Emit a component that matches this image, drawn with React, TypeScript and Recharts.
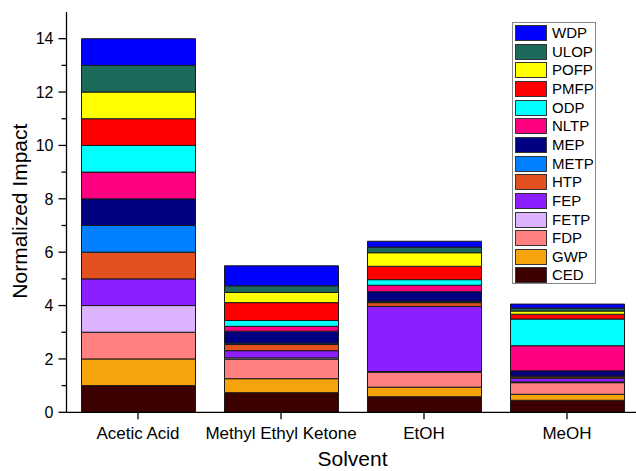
import React from "react";
import { BarChart, Bar, XAxis, YAxis } from "recharts";

// Solvents compared
const solvents = ["Acetic Acid", "Methyl Ethyl Ketone", "EtOH", "MeOH"];

// Normalized impact per category, one value per solvent (bottom of stack first)
const CED = [1, 0.735, 0.585, 0.45];
const GWP = [1, 0.525, 0.355, 0.225];
const FDP = [1, 0.73, 0.56, 0.435];
const FETP = [1, 0.05, 0.03, 0.03];
const FEP = [1, 0.27, 2.44, 0.135];
const HTP = [1, 0.23, 0.14, 0.05];
const METP = [1, 0.05, 0.05, 0.03];
const MEP = [1, 0.45, 0.36, 0.2];
const NLTP = [1, 0.18, 0.24, 0.94];
const ODP = [1, 0.22, 0.21, 1.0];
const PMFP = [1, 0.67, 0.5, 0.18];
const POFP = [1, 0.38, 0.51, 0.12];
const ULOP = [1, 0.25, 0.21, 0.11];
const WDP = [1, 0.75, 0.22, 0.15];

const yTicks = [0, 1, 2, 3, 4, 5, 6, 7, 8, 9, 10, 11, 12, 13, 14, 15];

const series: { key: string; values: number[]; color: string }[] = [
  { key: "CED", values: CED, color: "#3d0000" },
  { key: "GWP", values: GWP, color: "#f7a30b" },
  { key: "FDP", values: FDP, color: "#ff8080" },
  { key: "FETP", values: FETP, color: "#dcb3ff" },
  { key: "FEP", values: FEP, color: "#8d1eff" },
  { key: "HTP", values: HTP, color: "#e2511f" },
  { key: "METP", values: METP, color: "#0080ff" },
  { key: "MEP", values: MEP, color: "#000080" },
  { key: "NLTP", values: NLTP, color: "#ff0080" },
  { key: "ODP", values: ODP, color: "#00ffff" },
  { key: "PMFP", values: PMFP, color: "#ff0000" },
  { key: "POFP", values: POFP, color: "#ffff00" },
  { key: "ULOP", values: ULOP, color: "#1b6a5b" },
  { key: "WDP", values: WDP, color: "#0000ff" },
];

const data = solvents.map((name, i) => {
  const row: Record<string, number | string> = { name };
  series.forEach((s) => {
    row[s.key] = s.values[i];
  });
  return row;
});

const FONT = "Arial, 'Liberation Sans', sans-serif";

const YTick = (props: any) => {
  const { x, y, payload } = props;
  const v = payload.value as number;
  const major = v % 2 === 0;
  if (v > 14) return null;
  return (
    <g>
      <line x1={x - (major ? 8 : 5)} x2={x} y1={y} y2={y} stroke="#000" strokeWidth={1.3} />
      {major && (
        <text x={x - 13} y={y} dy={5.8} textAnchor="end" fontSize={16} fontFamily={FONT} fill="#000">
          {v}
        </text>
      )}
    </g>
  );
};

const XTick = (props: any) => {
  const { x, y, payload } = props;
  return (
    <g>
      <line x1={x} x2={x} y1={y} y2={y + 7} stroke="#000" strokeWidth={1.3} />
      <text x={x} y={y + 26.7} textAnchor="middle" fontSize={17} fontFamily={FONT} fill="#000">
        {payload.value}
      </text>
    </g>
  );
};

const XTitle = (props: any) => {
  const vb = props.viewBox;
  return (
    <text
      x={vb.x + vb.width / 2}
      y={vb.y + vb.height - 5}
      textAnchor="middle"
      fontSize={21}
      fontFamily={FONT}
      fill="#000"
    >
      Solvent
    </text>
  );
};

const YTitle = (props: any) => {
  const vb = props.viewBox;
  const cx = vb.x + 20.5;
  const cy = vb.y + vb.height / 2 - 1;
  return (
    <text
      transform={`translate(${cx},${cy}) rotate(-90)`}
      textAnchor="middle"
      fontSize={21}
      fontFamily={FONT}
      fill="#000"
    >
      Normalized Impact
    </text>
  );
};

const legendOrder = [...series].reverse();

const LegendBox = () => (
  <div
    style={{
      position: "absolute",
      left: 512,
      top: 22,
      width: 84,
      height: 262,
      border: "1px solid #888",
      background: "#fff",
      boxSizing: "border-box",
      fontFamily: FONT,
    }}
  >
    {legendOrder.map((s, i) => (
      <div
        key={s.key}
        style={{
          position: "absolute",
          left: 2,
          top: 1 + i * 18.65,
          height: 18,
          display: "flex",
          alignItems: "center",
        }}
      >
        <div
          style={{
            width: 32,
            height: 16,
            background: s.color,
            border: "1px solid #333",
            boxSizing: "border-box",
          }}
        />
        <span style={{ marginLeft: 5, fontSize: 15, color: "#000", lineHeight: "18px" }}>{s.key}</span>
      </div>
    ))}
  </div>
);

export default function App() {
  return (
    <div
      style={{
        position: "absolute",
        left: 0,
        top: 0,
        width: 636,
        height: 471,
        overflow: "hidden",
        background: "#fff",
      }}
    >
      <BarChart
        width={660}
        height={471}
        data={data}
        margin={{ top: 12, right: 21.5, bottom: 0, left: 6.5 }}
        barSize={114}
      >
        <XAxis
          dataKey="name"
          xAxisId="bottom"
          height={58.7}
          axisLine={{ stroke: "#000", strokeWidth: 1.3 }}
          tickLine={false}
          tickSize={0}
          tickMargin={0}
          tick={<XTick />}
          interval={0}
          label={<XTitle />}
        />
        <XAxis
          dataKey="name"
          xAxisId="top"
          orientation="top"
          height={0}
          tick={false}
          tickLine={false}
          axisLine={{ stroke: "#000", strokeWidth: 1.3 }}
        />
        <YAxis
          width={60}
          domain={[0, 15]}
          ticks={yTicks}
          interval={0}
          allowDataOverflow
          axisLine={{ stroke: "#000", strokeWidth: 1.3 }}
          tickLine={false}
          tickSize={0}
          tickMargin={0}
          tick={<YTick />}
          label={<YTitle />}
        />
        {series.map((s) => (
          <Bar
            key={s.key}
            dataKey={s.key}
            stackId="impact"
            xAxisId="bottom"
            fill={s.color}
            stroke="#1a1a1a"
            strokeWidth={1}
            isAnimationActive={false}
          />
        ))}
      </BarChart>
      <LegendBox />
    </div>
  );
}
